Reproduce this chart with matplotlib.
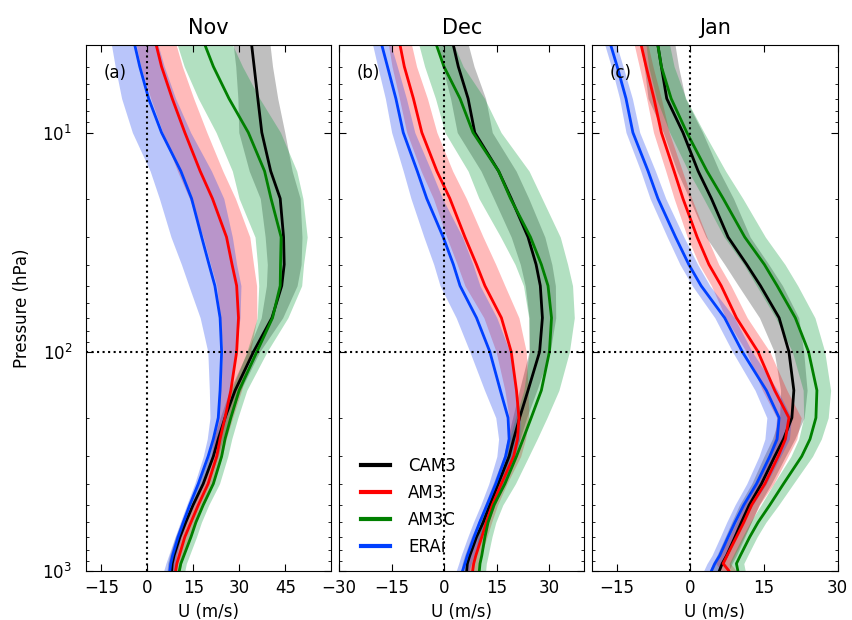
import numpy as np
import matplotlib
matplotlib.use('Agg')
import matplotlib.pyplot as plt

# pressure levels (hPa)
plev = [4, 5, 7, 10, 15, 20, 30, 40, 50, 70, 100, 150, 200, 250, 300, 400, 500, 600, 700, 850, 925, 1000]

# Nov: zonal wind (m/s) and spread
nov_cam3 = [34.0, 34.8, 36.0, 37.3, 40.2, 43.3, 44.4, 44.6, 43.8, 40.6, 34.6, 28.6, 25.3, 23.1, 21.5, 18.2, 14.9, 12.5, 10.6, 8.7, 8.1, 7.9]
nov_am3 = [2.9, 4.6, 8.1, 12.2, 17.2, 21.2, 25.8, 27.6, 29.1, 29.7, 29.1, 27.2, 25.3, 23.7, 22.6, 19.8, 16.6, 14.2, 12.2, 10.4, 9.6, 9.2]
nov_am3c = [18.8, 21.5, 26.6, 32.9, 38.2, 40.3, 43.6, 43.4, 43.3, 40.8, 35.7, 29.9, 27.2, 25.3, 24.2, 21.5, 18.2, 15.8, 14.2, 11.9, 10.9, 10.4]
nov_erai = [-4.1, -2.5, 0.4, 4.6, 10.9, 14.4, 17.7, 20.1, 22.0, 23.7, 24.2, 23.7, 23.1, 21.5, 19.8, 16.6, 13.8, 11.7, 10.0, 8.2, 7.6, 7.3]
nov_cam3_sd = [6, 6, 6.5, 7.5, 7, 6.5, 6, 5.5, 5, 3.5, 2, 1.8, 1.6, 1.5, 1.5, 1.5, 1.5, 1.5, 1.5, 1.5, 1.5, 1.5]
nov_am3_sd = [6.5, 6.8, 7, 7.2, 7.4, 7.5, 7.6, 7, 6.5, 6, 4.5, 3.5, 2.5, 2, 1.8, 1.6, 1.5, 1.5, 1.5, 1.5, 1.5, 1.5]
nov_am3c_sd = [9, 9.5, 10, 10.5, 10.5, 10.4, 8.5, 7.5, 7, 5, 3.3, 2.5, 2.3, 2.2, 2, 2, 1.8, 1.8, 1.8, 1.8, 1.8, 1.8]
nov_erai_sd = [7.6, 8, 8.8, 9.5, 10, 10.5, 10, 9, 8.5, 6.5, 4.5, 3.5, 2.7, 2, 1.6, 1.2, 1, 1, 1, 1.3, 1.6, 2]

# Dec
dec_cam3 = [2.6, 4.0, 6.8, 8.7, 15.5, 19.1, 23.9, 26.2, 27.4, 28.0, 27.2, 23.9, 21.5, 19.8, 18.5, 15.4, 13.0, 11.1, 9.2, 7.3, 6.6, 6.4]
dec_am3 = [-12.6, -11.4, -8.8, -6.4, -2.1, 1.6, 5.9, 9.2, 11.6, 16.3, 19.1, 20.6, 21.3, 20.9, 19.8, 16.3, 13.7, 12.0, 10.7, 9.0, 8.4, 8.1]
dec_am3c = [-2.2, -0.1, 4.5, 8.2, 15.5, 18.9, 24.6, 27.7, 29.6, 30.6, 30.0, 27.7, 24.8, 22.5, 20.6, 17.3, 14.2, 12.5, 11.6, 10.7, 10.2, 10.0]
dec_erai = [-17.8, -16.2, -13.8, -11.7, -7.7, -5.0, -0.3, 2.6, 4.5, 9.2, 13.0, 16.0, 18.2, 18.5, 17.5, 14.7, 12.2, 10.1, 8.5, 6.6, 5.9, 5.2]
dec_cam3_sd = [4.3, 4.5, 5, 5, 5, 5, 4.8, 4.5, 4.3, 3.8, 3, 2.5, 2, 1.8, 1.6, 1.5, 1.5, 1.5, 1.5, 1.5, 1.5, 1.5]
dec_am3_sd = [3.3, 3.5, 4, 4.3, 4.5, 4.7, 5.2, 5.5, 5.7, 5, 4.3, 3.3, 2.8, 2.3, 2, 1.6, 1.5, 1.5, 1.5, 1.5, 1.5, 1.5]
dec_am3c_sd = [5, 5.5, 7, 8, 8.7, 9, 8.5, 7.5, 7, 6.5, 5.7, 5, 4.5, 4, 3.5, 3, 2.5, 2.2, 2, 1.8, 1.8, 1.8]
dec_erai_sd = [2.6, 2.8, 3, 3.3, 4, 4.5, 5.5, 5.6, 5.7, 5.8, 5.7, 4.5, 3.5, 3, 2.5, 2, 1.8, 1.8, 1.8, 1.8, 1.8, 1.8]

# Jan
jan_cam3 = [-6.6, -5.9, -4.8, -1.5, 1.6, 4.3, 7.7, 11.5, 14.3, 18.1, 20.1, 21.1, 20.7, 19.0, 17.2, 14.5, 12.0, 10.4, 9.1, 7.4, 6.5, 5.9]
jan_am3 = [-10.0, -9.0, -7.4, -5.9, -3.3, -1.5, 1.4, 3.8, 6.3, 9.4, 13.8, 17.2, 20.1, 19.4, 17.9, 15.2, 12.5, 10.9, 9.4, 7.5, 6.7, 7.9]
jan_am3c = [-6.6, -5.9, -3.9, -0.7, 3.4, 6.7, 11.1, 15.1, 17.7, 21.4, 24.1, 25.8, 25.6, 24.4, 22.7, 19.0, 16.2, 13.8, 12.1, 10.2, 9.4, 9.7]
jan_erai = [-16.2, -14.9, -13.1, -11.7, -8.6, -6.6, -3.0, -0.3, 2.2, 7.0, 10.6, 15.5, 18.1, 17.7, 16.2, 13.5, 10.9, 9.1, 7.7, 6.0, 5.0, 4.3]
jan_cam3_sd = [3.5, 3.5, 3.8, 4, 4.3, 4.5, 4.5, 4.5, 4.5, 4, 3, 2.7, 2.5, 2.3, 2.2, 2, 2, 2, 2, 2, 2, 2]
jan_am3_sd = [1.4, 1.4, 1.5, 1.6, 1.7, 1.8, 2, 2, 2, 2.2, 2.4, 2.5, 2.5, 2.3, 2, 1.8, 1.6, 1.5, 1.5, 1.5, 1.5, 1.5]
jan_am3c_sd = [2.4, 2.6, 3, 3.5, 3.8, 4, 4.2, 4.2, 4.2, 4, 3.3, 2.8, 2.5, 2.3, 2.2, 2, 1.8, 1.6, 1.5, 1.5, 1.5, 1.5]
jan_erai_sd = [1.2, 1.2, 1.3, 1.4, 1.5, 1.6, 1.7, 1.8, 1.8, 2, 2, 2.3, 2.5, 2.5, 2.2, 2, 1.8, 1.7, 1.6, 1.6, 1.6, 1.6]

months = ['Nov', 'Dec', 'Jan']
panel_tags = ['(a)', '(b)', '(c)']
models = ['CAM3', 'AM3', 'AM3C', 'ERAi']
xlims = [(-20, 60), (-30, 40), (-20, 30)]
xticks = [[-15, 0, 15, 30, 45], [-30, -15, 0, 15, 30], [-15, 0, 15, 30]]

line_colors = ['k', 'r', '#008000', '#0040ff']
fill_colors = ['k', 'r', '#009933', '#1a40f0']
fill_alpha = [0.25, 0.27, 0.3, 0.3]

data = [
    [nov_cam3, nov_am3, nov_am3c, nov_erai],
    [dec_cam3, dec_am3, dec_am3c, dec_erai],
    [jan_cam3, jan_am3, jan_am3c, jan_erai],
]
spread = [
    [nov_cam3_sd, nov_am3_sd, nov_am3c_sd, nov_erai_sd],
    [dec_cam3_sd, dec_am3_sd, dec_am3c_sd, dec_erai_sd],
    [jan_cam3_sd, jan_am3_sd, jan_am3c_sd, jan_erai_sd],
]

plt.rcParams['font.family'] = 'DejaVu Sans'
plt.rcParams['xtick.direction'] = 'in'
plt.rcParams['ytick.direction'] = 'in'
plt.rcParams['xtick.top'] = True
plt.rcParams['ytick.right'] = True
plt.rcParams['xtick.major.size'] = 5
plt.rcParams['ytick.major.size'] = 5
plt.rcParams['ytick.minor.size'] = 2.5
plt.rcParams['xtick.major.pad'] = 6
plt.rcParams['ytick.major.pad'] = 10

fig = plt.figure(figsize=(8.52, 6.2), dpi=100)
lefts = [0.101, 0.398, 0.695]
p = np.array(plev)

for i, mon in enumerate(months):
    ax = fig.add_axes([lefts[i], 0.079, 0.288, 0.848])
    handles = []
    for j, name in enumerate(models):
        u = np.array(data[i][j])
        s = np.array(spread[i][j])
        ax.fill_betweenx(p, u - s, u + s, color=fill_colors[j], alpha=fill_alpha[j], lw=0)
    for j, name in enumerate(models):
        h, = ax.plot(data[i][j], p, color=line_colors[j], lw=2, label=name)
        handles.append(h)

    ax.axvline(0, color='k', ls=':', lw=1.5)
    ax.axhline(100, color='k', ls=':', lw=1.5)

    ax.set_yscale('log')
    ax.set_ylim(1000, 4)
    ax.set_xlim(xlims[i])
    ax.set_xticks(xticks[i])
    ax.set_xticklabels([str(t).replace('-', '\u2212') for t in xticks[i]])
    ax.tick_params(labelsize=12)
    ax.set_xlabel('U (m/s)', fontsize=12)
    ax.set_title(mon, fontsize=15, pad=8)
    ax.text(0.07, 0.948, panel_tags[i], transform=ax.transAxes, fontsize=12, va='center')
    if i == 0:
        ax.set_ylabel('Pressure (hPa)', fontsize=12, labelpad=8)
    else:
        ax.tick_params(axis='y', which='both', labelleft=False)
    if i == 1:
        leg = ax.legend(handles=handles, loc='lower left', bbox_to_anchor=(0.03, 0.0),
                        frameon=False, fontsize=12, handlelength=1.7,
                        handletextpad=1.1, labelspacing=0.55)
        for ln in leg.get_lines():
            ln.set_linewidth(3)

fig.savefig('out.png', dpi=100)
